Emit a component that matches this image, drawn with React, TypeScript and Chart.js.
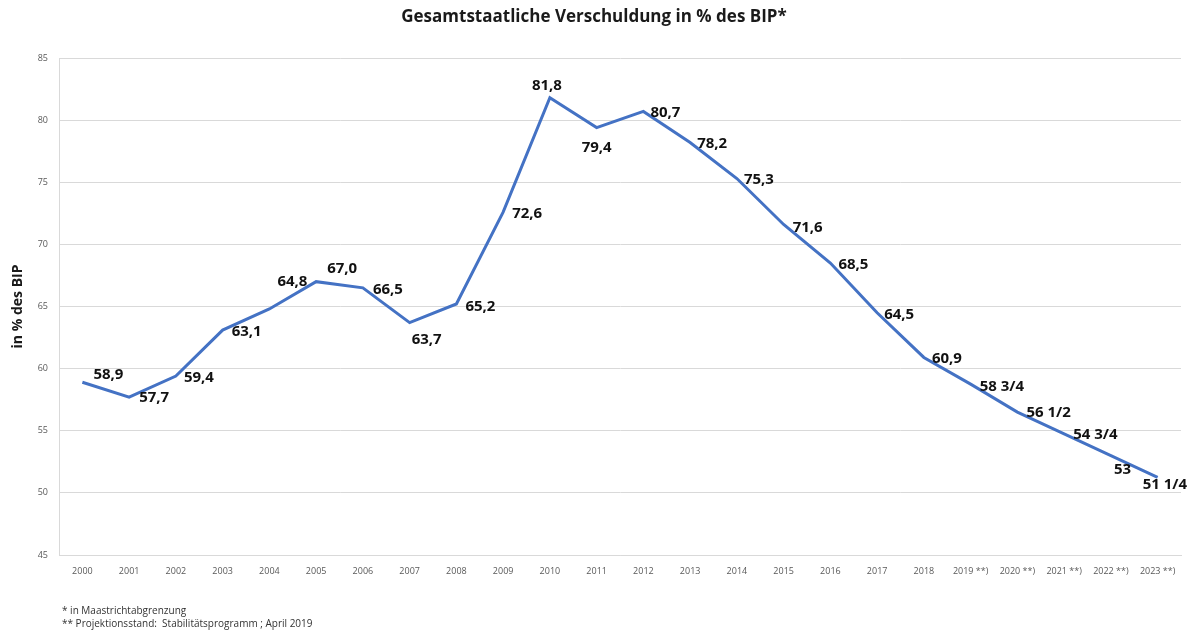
import React, { useEffect, useRef } from "react";
import { Chart, registerables } from "chart.js";

Chart.register(...registerables);

const years = [
  "2000", "2001", "2002", "2003", "2004", "2005", "2006", "2007", "2008", "2009",
  "2010", "2011", "2012", "2013", "2014", "2015", "2016", "2017", "2018",
  "2019 **)", "2020 **)", "2021 **)", "2022 **)", "2023 **)",
];
const debtRatio = [
  58.9, 57.7, 59.4, 63.1, 64.8, 67.0, 66.5, 63.7, 65.2, 72.6,
  81.8, 79.4, 80.7, 78.2, 75.3, 71.6, 68.5, 64.5, 60.9,
  58.75, 56.5, 54.75, 53, 51.25,
];
const valueLabels = [
  "58,9", "57,7", "59,4", "63,1", "64,8", "67,0", "66,5", "63,7", "65,2", "72,6",
  "81,8", "79,4", "80,7", "78,2", "75,3", "71,6", "68,5", "64,5", "60,9",
  "58 3/4", "56 1/2", "54 3/4", "53", "51 1/4",
];
// label offsets (dx from point to left edge of text, dy to text middle)
const labelDx = [11, 10, 8, 9, 8, 11, 10, 2, 9, 9, -18, -15, 7, 7, 7, 9, 8, 7, 8, 9, 9, 9, 3, -15];
const labelDy = [-8, 1, 2, 2, -27, -13, 2, 17, 3, 2, -12, 20, 1, 1, 1, 3, 2, 2, 1, 3, 1, 1, 14, 7];

const titleText = "Gesamtstaatliche Verschuldung in % des BIP*";
const yTitle = "in % des BIP";
const footnotes = [
  "* in Maastrichtabgrenzung",
  "** Projektionsstand:  Stabilitätsprogramm ; April 2019",
];

const PLOT_LEFT = 59;
const PLOT_RIGHT = 1181;
const PLOT_TOP = 58;
const PLOT_BOTTOM = 555;
const W = 1200;
const H = 634;

export default function App() {
  const ref = useRef<HTMLCanvasElement | null>(null);

  useEffect(() => {
    document.body.style.margin = "0";
    const canvas = ref.current;
    if (!canvas) return;

    const overlay = {
      id: "overlay",
      afterDatasetsDraw(chart: any) {
        const ctx = chart.ctx;
        const meta = chart.getDatasetMeta(0);
        ctx.save();
        ctx.fillStyle = "#111";
        ctx.font = "bold 15px 'Open Sans'";
        ctx.textAlign = "left";
        ctx.textBaseline = "middle";
        meta.data.forEach((pt: any, i: number) => {
          ctx.fillText(valueLabels[i], pt.x + labelDx[i], pt.y + labelDy[i]);
        });
        ctx.restore();
      },
      afterDraw(chart: any) {
        const ctx = chart.ctx;
        ctx.save();
        ctx.fillStyle = "#1a1a1a";
        ctx.font = "bold 17px 'Open Sans'";
        ctx.textAlign = "center";
        ctx.textBaseline = "middle";
        ctx.fillText(titleText, 594, 17);

        ctx.save();
        ctx.translate(18, (PLOT_TOP + PLOT_BOTTOM) / 2);
        ctx.rotate(-Math.PI / 2);
        ctx.font = "bold 14px 'Open Sans'";
        ctx.fillText(yTitle, 0, 0);
        ctx.restore();

        ctx.font = "10px 'Open Sans'";
        ctx.fillStyle = "#333";
        ctx.textAlign = "left";
        ctx.fillText(footnotes[0], 62, 611);
        ctx.fillText(footnotes[1], 62, 624);
        ctx.restore();
      },
    };

    const chart = new Chart(canvas, {
      type: "line",
      data: {
        labels: years,
        datasets: [
          {
            data: debtRatio,
            borderColor: "#4472C4",
            borderWidth: 3,
            pointRadius: 0,
            tension: 0,
            fill: false,
          },
        ],
      },
      options: {
        animation: false,
        responsive: false,
        maintainAspectRatio: false,
        layout: { padding: { top: PLOT_TOP, right: W - PLOT_RIGHT, left: 0, bottom: 0 } },
        plugins: {
          legend: { display: false },
          title: { display: false },
          tooltip: { enabled: false },
        },
        scales: {
          x: {
            offset: true,
            afterFit(scale: any) {
              scale.height = H - PLOT_BOTTOM;
            },
            grid: { display: false, drawTicks: false },
            border: { display: true, color: "#d9d9d9", width: 1 },
            ticks: {
              color: "#595959",
              font: { size: 9, family: "'Open Sans'" },
              padding: 11,
              autoSkip: false,
              maxRotation: 0,
            },
          },
          y: {
            min: 45,
            max: 85,
            afterFit(scale: any) {
              scale.width = PLOT_LEFT;
            },
            grid: { color: "#d9d9d9", lineWidth: 1, drawTicks: false },
            border: { display: true, color: "#d9d9d9", width: 1 },
            ticks: {
              stepSize: 5,
              color: "#595959",
              font: { size: 9, family: "'Open Sans'" },
              padding: 11,
            },
          },
        },
      },
      plugins: [overlay],
    });

    return () => chart.destroy();
  }, []);

  return (
    <div style={{ width: W, height: H, background: "#fff" }}>
      <canvas ref={ref} width={W} height={H} style={{ display: "block" }} />
    </div>
  );
}
